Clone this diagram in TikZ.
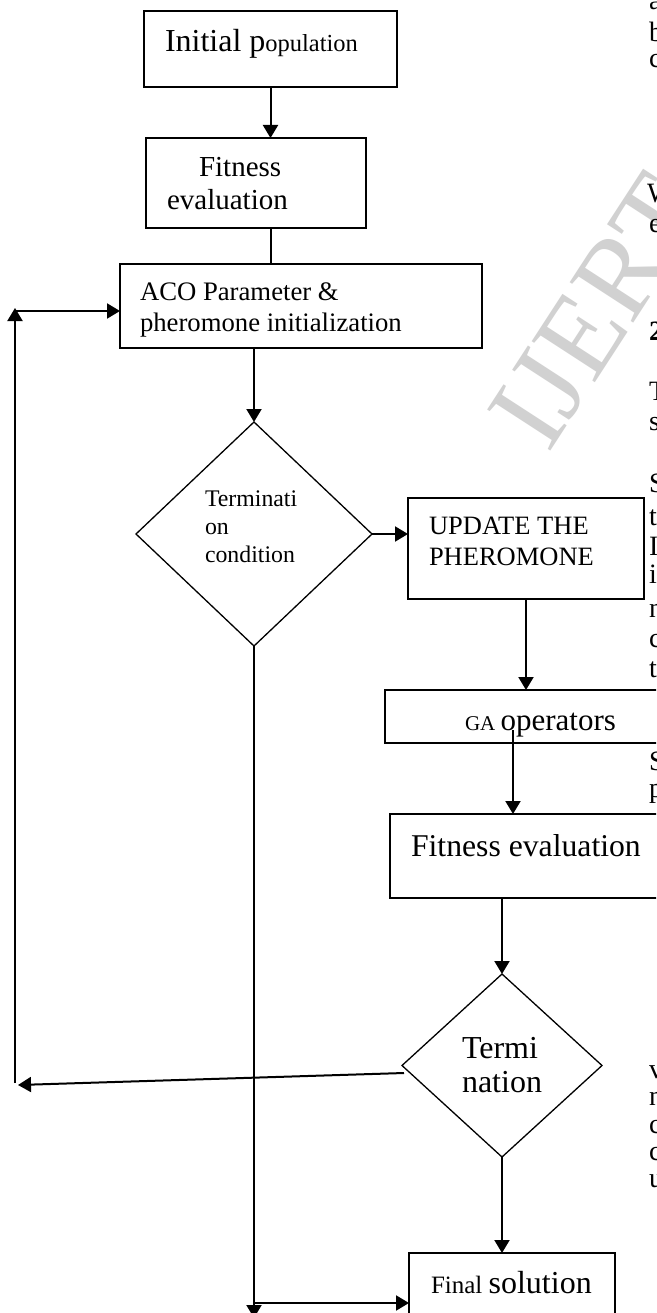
\documentclass[tikz,border=0pt]{standalone}
\usepackage{fontspec}
\setmainfont{Liberation Serif}
\usetikzlibrary{arrows.meta,shapes.geometric}
\tikzset{
 boxnode/.style={draw=black, line width=1.6pt, fill=white, rectangle, inner sep=0pt, outer sep=0pt},
 dia/.style={draw=black, line width=1.3pt, fill=white, diamond, inner sep=0pt, outer sep=0pt},
 arr/.style={line width=2pt, -{Triangle[length=13pt,width=15pt]}},
 ln/.style={line width=2pt},
 lbl/.style={anchor=base west, inner sep=0pt, outer sep=0pt},
 marg/.style={anchor=base west, inner sep=0pt, outer sep=0pt, font=\fontsize{28}{30}\selectfont}
}
\begin{document}
\begin{tikzpicture}[x=1pt,y=-1pt]
\path[use as bounding box, clip] (0,0) rectangle (656,1313);
\fill[white] (0,0) rectangle (656,1313);

% watermark
\node[anchor=base west, inner sep=0pt, rotate=57, text=black!18, font=\fontsize{115}{118}\selectfont] (wm) at (548,455) {IJERT};

% margin text of the page
\node[marg] (m1) at (649,10) {a};
\node[marg] (m2) at (649,42) {b};
\node[marg] (m3) at (649,68) {c};
\node[marg] (m4) at (647,203) {W};
\node[marg] (m5) at (649,233) {e};
\node[marg, font=\fontsize{28}{30}\selectfont\bfseries] (m6) at (649,340) {2};
\node[marg] (m7) at (649,400) {T};
\node[marg] (m8) at (649,430) {s};
\node[marg] (m9) at (649,492) {S};
\node[marg] (m10) at (649,525) {t};
\node[marg] (m11) at (649,555) {I};
\node[marg] (m12) at (649,583) {i};
\node[marg] (m13) at (649,617) {n};
\node[marg] (m14) at (649,647) {c};
\node[marg] (m15) at (649,677) {t};
\node[marg] (m16) at (649,770) {S};
\node[marg] (m17) at (649,797) {p};
\node[marg] (m18) at (649,1078) {v};
\node[marg] (m19) at (649,1105) {n};
\node[marg] (m20) at (649,1133) {c};
\node[marg] (m21) at (649,1160) {c};
\node[marg] (m22) at (649,1187) {u};

% shapes
\node[boxnode, minimum width=253pt, minimum height=76pt] (b1) at (270.5,49) {};
\node[boxnode, minimum width=220pt, minimum height=90pt] (b2) at (256,183) {};
\node[boxnode, minimum width=362pt, minimum height=84pt] (b3) at (301,306) {};
\node[dia, minimum width=236pt, minimum height=224pt] (d1) at (254,534) {};
\node[boxnode, minimum width=236pt, minimum height=101pt] (up) at (526,548.5) {};
\node[boxnode, minimum width=315pt, minimum height=53pt] (ga) at (542.5,716.5) {};
\node[boxnode, minimum width=310pt, minimum height=84pt] (fit) at (545,856) {};
\node[dia, minimum width=200pt, minimum height=183pt] (d2) at (502,1065.5) {};
\node[boxnode, minimum width=206pt, minimum height=87pt] (fin) at (512,1296.5) {};

% texts
\node[lbl, font=\fontsize{32}{36}\selectfont] (t1) at (165,52) {Initial p{\fontsize{24.5}{28}\selectfont opulation}};
\node[lbl, font=\fontsize{29}{32}\selectfont] (t2a) at (199,177) {Fitness};
\node[lbl, font=\fontsize{29}{32}\selectfont] (t2b) at (167,210) {evaluation};
\node[lbl, font=\fontsize{26.7}{30}\selectfont] (t3a) at (140,301) {ACO Parameter \&};
\node[lbl, font=\fontsize{26.7}{30}\selectfont] (t3b) at (140,331) {pheromone initialization};
\node[lbl, font=\fontsize{23.8}{28}\selectfont] (t4a) at (205,506) {Terminati};
\node[lbl, font=\fontsize{23.8}{28}\selectfont] (t4b) at (205,534) {on};
\node[lbl, font=\fontsize{23.8}{28}\selectfont] (t4c) at (205,562) {condition};
\node[lbl, font=\fontsize{26.5}{30}\selectfont] (t5a) at (429,534) {UPDATE THE};
\node[lbl, font=\fontsize{26.5}{30}\selectfont] (t5b) at (429,565) {PHEROMONE};
\node[lbl, font=\fontsize{21}{24}\selectfont] (t6) at (465,730) {GA {\fontsize{31}{34}\selectfont operators}};
\node[lbl, font=\fontsize{31.7}{36}\selectfont] (t7) at (411,856) {Fitness evaluation};
\node[lbl, font=\fontsize{32}{36}\selectfont] (t8a) at (462,1058) {Termi};
\node[lbl, font=\fontsize{32}{36}\selectfont] (t8b) at (462,1092) {nation};
\node[lbl, font=\fontsize{25}{30}\selectfont] (t9) at (431,1293) {Final {\fontsize{32}{36}\selectfont solution}};

% connector points
\coordinate (gaIn) at (513,730);
\coordinate (botL) at (254,1318);
\coordinate (hb) at (254,1303);
\coordinate (d2l) at (404,1073);
\coordinate (lt) at (18,1085);
\coordinate (loopBot) at (15,1083);
\coordinate (loopTop) at (15,308);
\coordinate (loopH) at (15,311);

% connectors
\draw[arr] (b1.south) -- (b1.south |- b2.north);
\draw[ln] (b1.south |- b2.south) -- (b1.south |- b3.north);
\draw[arr] (b3.south -| d1.north) -- (d1.north);
\draw[arr] (d1.east) -- (d1.east -| up.west);
\draw[arr] (up.south) -- (up.south |- ga.north);
\draw[arr] (gaIn) -- (gaIn |- fit.north);
\draw[arr] (fit.south -| d2.north) -- (d2.north);
\draw[arr] (d2.south) -- (d2.south |- fin.north);
\draw[arr] (d1.south) -- (botL);
\draw[arr] (hb) -- (hb -| fin.west);
\draw[arr] (d2l) -- (lt);
\draw[arr] (loopBot) -- (loopTop);
\draw[arr] (loopH) -- (loopH -| b3.west);
\end{tikzpicture}
\end{document}
